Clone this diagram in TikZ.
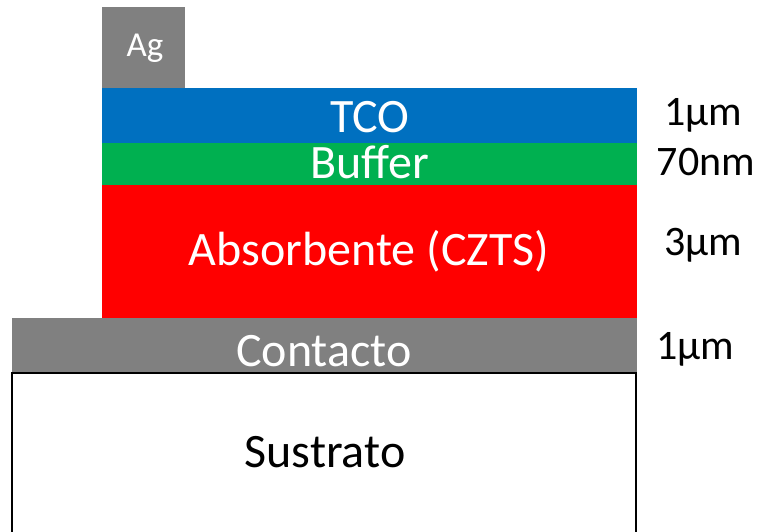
\documentclass[tikz,border=0pt]{standalone}
\usepackage{fontspec}
\setmainfont{Carlito}
\usepackage{tikz}
\definecolor{tco}{RGB}{0,112,192}
\definecolor{buf}{RGB}{0,176,80}
\definecolor{gris}{RGB}{128,128,128}
\tikzset{
 capa/.style={inner sep=0pt, font=\fontsize{48}{48}\selectfont, text=white, anchor=base},
 esp/.style={inner sep=0pt, font=\fontsize{42}{42}\selectfont, anchor=base}
}
\begin{document}
\begin{tikzpicture}[x=1pt,y=-1pt]
\useasboundingbox (0,0) rectangle (764,531);
 % layers
 \fill[gris] (102,7) rectangle (185,88);
 \fill[tco] (102,88) rectangle (637,143);
 \fill[buf] (102,143) rectangle (637,185);
 \fill[red] (102,185) rectangle (637,318);
 \fill[gris] (12,318) rectangle (637,373);
 \draw[line width=2pt] (12,373) rectangle (636,545);
 % labels
 \node[capa, font=\fontsize{35}{35}\selectfont] (ag) at (145,56) {Ag};
 \node[capa] (tco) at (370,132) {TCO};
 \node[capa] (buffer) at (370,178) {Buffer};
 \node[capa] (abs) at (369,265) {Absorbente (CZTS)};
 \node[capa] (cont) at (324,366) {Contacto};
 \node[capa, text=black] (sus) at (325,467) {Sustrato};
 \node[esp] (e1) at (703,125) {1μm};
 \node[esp] (e2) at (706,175) {70nm};
 \node[esp] (e3) at (703,255) {3μm};
 \node[esp] (e4) at (695,359) {1μm};
\end{tikzpicture}
\end{document}
